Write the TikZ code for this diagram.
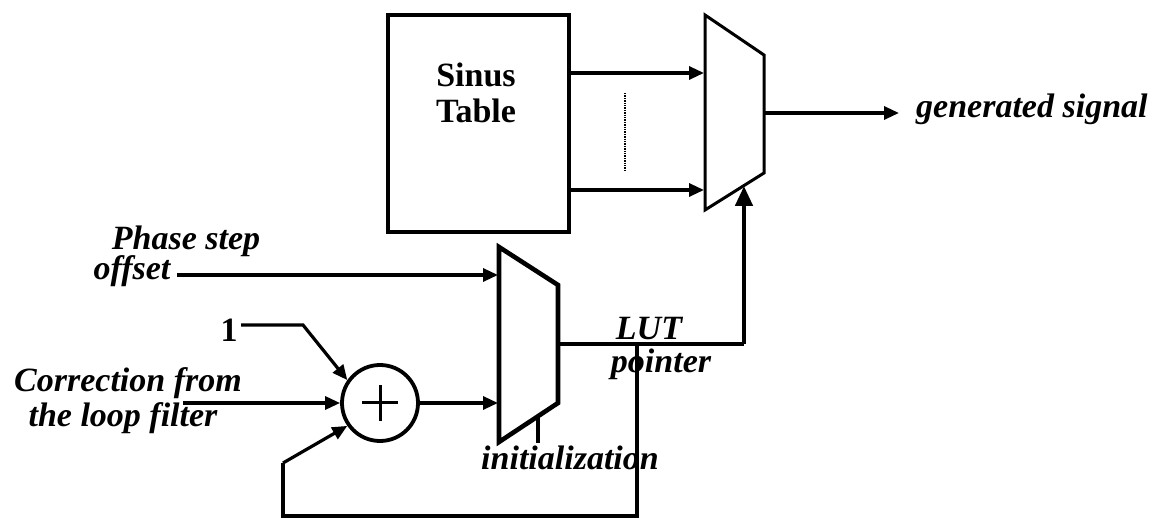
\documentclass[tikz,border=0pt]{standalone}
\usepackage{fontspec}
\setmainfont{Liberation Serif}
\usetikzlibrary{arrows.meta}
\begin{document}
\begin{tikzpicture}[x=1pt,y=-1pt,
  wire/.style={line width=3.2pt},
  thick wire/.style={line width=4.6pt},
  arr/.style={wire,-{Triangle[length=15pt,width=13pt]}},
  bigarr/.style={thick wire,-{Triangle[length=20pt,width=17pt]}},
  lbl/.style={font=\fontsize{34}{36}\selectfont\bfseries\itshape, inner sep=0pt, anchor=base},
  blk/.style={font=\fontsize{34}{36}\selectfont\bfseries, inner sep=0pt, anchor=base}]
\useasboundingbox (0,0) rectangle (1157,518);
\fill[white] (0,0) rectangle (1157,518);

% Sinus table
\node[draw, line width=4.6pt, minimum width=181pt, minimum height=217pt, inner sep=0pt] (sinus) at (478.5,123.5) {};
\node[blk] (sinustxt) at (476,87) {Sinus};
\node[blk] (tabletxt) at (476,123) {Table};

% top multiplexer
\draw[line width=3pt, line join=miter] (705,15) -- (764,55) -- (764,173) -- (705,210) -- cycle;
\coordinate (m1in1) at (704,73);
\coordinate (m1in2) at (704,190);
\coordinate (m1out) at (764,113);
\coordinate (m1sel) at (744,186);
\coordinate (sin1) at (569,73);
\coordinate (sin2) at (569,190);
\draw[arr] (sin1) -- (m1in1);
\draw[arr] (sin2) -- (m1in2);
\coordinate (dotA) at (625,93);
\coordinate (dotB) at (625,172);
\draw[line width=1.4pt, densely dotted] (dotA) -- (dotB);

% output
\node[lbl, anchor=base west] (gen) at (916,118) {generated signal};
\coordinate (genin) at (899,113);
\draw[arr] (m1out) -- (genin);

% bottom multiplexer
\draw[line width=4.6pt, line join=miter] (499,247) -- (558,285) -- (558,403) -- (499,442) -- cycle;
\coordinate (m2in1) at (498,275);
\coordinate (m2in2) at (498,403);
\coordinate (m2out) at (558,344);
\coordinate (m2selA) at (538,416);
\coordinate (m2selB) at (538,443);
\draw[thick wire] (m2selA) -- (m2selB);
\node[lbl] (init) at (570,470) {initialization};

% phase step
\node[lbl] (phase) at (186,250) {Phase step};
\node[lbl] (offset) at (132,280) {offset};
\coordinate (phasestart) at (177,275);
\draw[arr] (phasestart) -- (m2in1);

% adder
\node[draw, circle, line width=3.8pt, minimum size=76pt, inner sep=0pt] (add) at (380,403) {};
\draw[line width=3pt] ([xshift=-18pt]add.center) -- ([xshift=18pt]add.center)
  ([yshift=-18pt]add.center) -- ([yshift=18pt]add.center);
\draw[arr] (add.east) -- (m2in2);

% 1 input
\node[blk] (one) at (229,342) {1};
\coordinate (oneA) at (241,325);
\coordinate (oneB) at (303,325);
\draw[arr, line join=miter] (oneA) -- (oneB) -- (add.145);

% correction input
\node[lbl] (corr1) at (128,392) {Correction from};
\node[lbl] (corr2) at (123,427) {the loop filter};
\coordinate (corrstart) at (183,403);
\draw[arr] (corrstart) -- (add.west);

% LUT pointer
\node[lbl] (lut) at (649,340) {LUT};
\node[lbl] (ptr) at (661,373) {pointer};
\coordinate (lutcorner) at (744,344);
\coordinate (fbsplit) at (637,344);
\coordinate (fbA) at (637,516);
\coordinate (fbB) at (283,516);
\coordinate (fbC) at (283,463);
\draw[thick wire, line join=miter] (m2out) -- (lutcorner);
\draw[bigarr] (lutcorner) -- (m1sel);
\draw[thick wire, line join=miter] (fbsplit) -- (fbA) -- (fbB) -- (fbC);
\draw[arr] (fbC) -- (add.215);
\end{tikzpicture}
\end{document}
